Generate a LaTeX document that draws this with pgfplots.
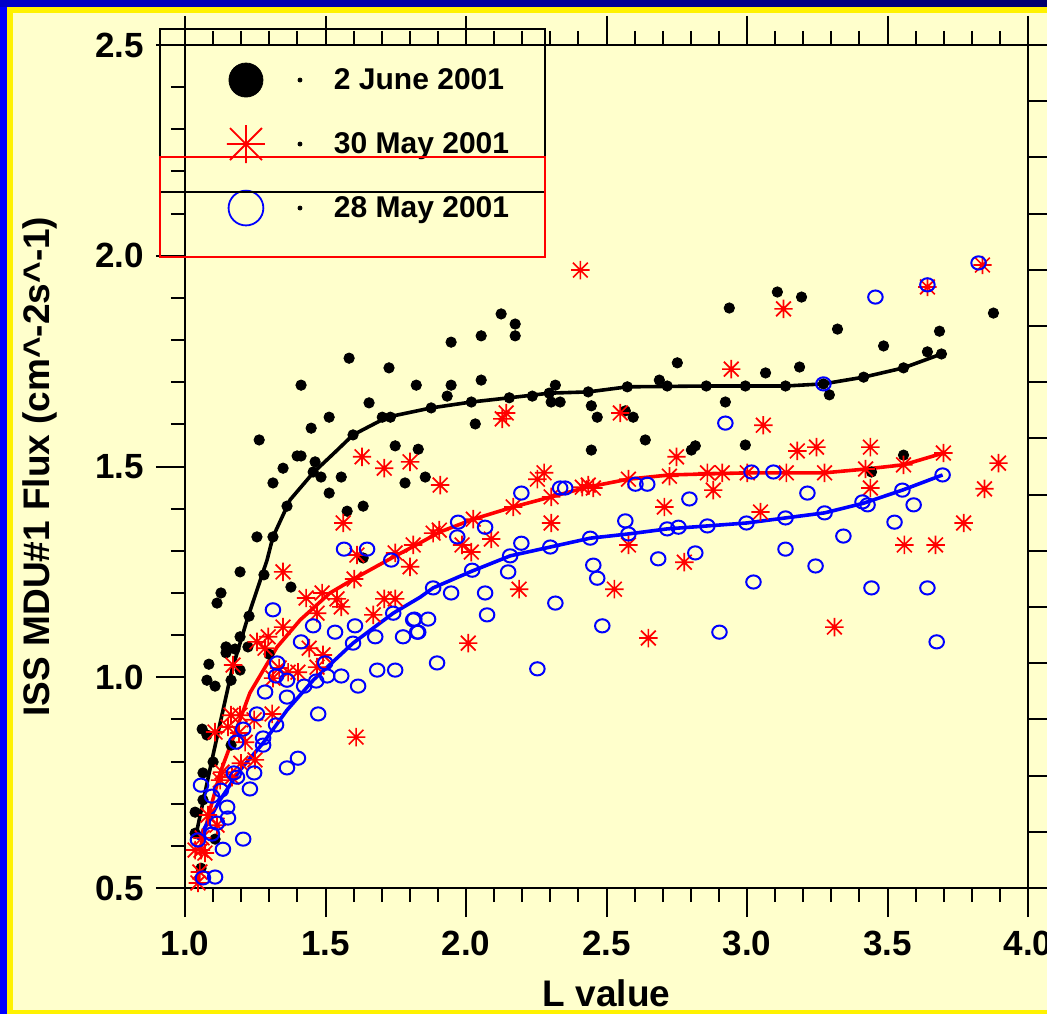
\documentclass[border=0pt]{standalone}
\usepackage{fontspec}
\setmainfont{Liberation Sans}
\usepackage{pgfplots}
\usepackage{pgfplotstable}
\pgfplotsset{compat=1.18}

\definecolor{bgyellow}{RGB}{255,255,204}
\definecolor{topblueA}{RGB}{0,0,200}
\definecolor{topblueB}{RGB}{0,0,110}

% eight-armed asterisk like the original SigmaPlot symbol
\pgfdeclareplotmark{star8}{%
  \pgfpathmoveto{\pgfqpoint{-\pgfplotmarksize}{0pt}}\pgfpathlineto{\pgfqpoint{\pgfplotmarksize}{0pt}}%
  \pgfpathmoveto{\pgfqpoint{0pt}{-\pgfplotmarksize}}\pgfpathlineto{\pgfqpoint{0pt}{\pgfplotmarksize}}%
  \pgfpathmoveto{\pgfqpoint{-0.8\pgfplotmarksize}{-0.8\pgfplotmarksize}}\pgfpathlineto{\pgfqpoint{0.8\pgfplotmarksize}{0.8\pgfplotmarksize}}%
  \pgfpathmoveto{\pgfqpoint{-0.8\pgfplotmarksize}{0.8\pgfplotmarksize}}\pgfpathlineto{\pgfqpoint{0.8\pgfplotmarksize}{-0.8\pgfplotmarksize}}%
  \pgfusepathqstroke}

% 2 June 2001
\pgfplotstableread{
x y
1.584 1.757
1.726 1.734
1.823 1.693
1.413 1.693
1.655 1.651
1.513 1.617
1.702 1.617
1.731 1.617
1.449 1.591
1.264 1.563
1.598 1.575
1.748 1.549
1.830 1.541
1.399 1.525
1.413 1.525
1.463 1.511
1.349 1.496
1.456 1.487
1.484 1.475
1.556 1.475
1.313 1.461
1.783 1.461
1.513 1.437
1.363 1.406
1.634 1.406
1.577 1.394
1.256 1.333
1.313 1.333
1.196 1.250
1.281 1.243
1.634 1.283
1.377 1.214
1.128 1.200
1.114 1.176
1.228 1.145
1.196 1.096
1.146 1.072
1.178 1.067
1.224 1.072
1.146 1.058
1.299 1.055
1.085 1.031
1.196 1.017
1.078 0.993
1.107 0.979
1.164 0.993
1.061 0.877
1.078 0.863
1.164 0.839
1.100 0.799
1.064 0.773
1.064 0.709
1.036 0.680
1.036 0.630
1.107 0.616
1.057 0.547
2.125 1.862
2.175 1.838
2.175 1.810
2.054 1.810
1.947 1.795
1.947 1.693
2.054 1.705
1.933 1.667
1.876 1.639
2.019 1.653
2.154 1.663
2.236 1.667
2.296 1.674
2.318 1.693
2.303 1.653
2.335 1.653
2.435 1.677
2.574 1.689
2.688 1.705
2.716 1.691
2.752 1.746
2.446 1.644
2.467 1.617
2.567 1.632
2.595 1.617
2.033 1.601
2.638 1.563
2.446 1.539
2.802 1.539
2.816 1.549
1.855 1.475
2.937 1.876
3.108 1.914
3.194 1.902
3.322 1.826
3.486 1.786
3.685 1.821
3.642 1.772
3.692 1.767
3.557 1.734
3.415 1.712
3.272 1.696
3.293 1.670
3.187 1.736
3.066 1.722
3.137 1.691
2.994 1.691
2.855 1.691
2.923 1.653
2.994 1.551
3.877 1.864
3.557 1.527
3.443 1.487
}\blackpts

% 30 May 2001
\pgfplotstableread{
x y
1.349 1.250
1.602 1.233
1.801 1.262
1.431 1.188
1.488 1.200
1.541 1.186
1.556 1.167
1.470 1.152
1.670 1.148
1.709 1.186
1.748 1.186
1.349 1.119
1.296 1.096
1.256 1.084
1.285 1.069
1.442 1.069
1.491 1.053
1.171 1.029
1.335 1.022
1.367 1.012
1.402 1.012
1.313 0.998
1.470 1.024
1.164 0.910
1.196 0.910
1.310 0.913
1.246 0.899
1.107 0.870
1.153 0.882
1.214 0.846
1.192 0.868
1.249 0.804
1.199 0.796
1.132 0.775
1.125 0.756
1.167 0.763
1.082 0.673
1.114 0.649
1.061 0.619
1.057 0.590
1.036 0.590
1.071 0.583
1.053 0.538
1.046 0.512
1.609 0.858
1.630 1.523
1.709 1.496
1.801 1.511
1.563 1.366
1.612 1.290
1.748 1.295
1.812 1.314
2.143 1.627
2.129 1.613
2.549 1.627
1.908 1.456
2.278 1.485
2.254 1.470
2.414 1.451
2.435 1.456
2.453 1.449
2.303 1.428
2.578 1.470
2.749 1.523
2.724 1.477
2.706 1.404
2.168 1.404
2.026 1.375
1.905 1.349
1.883 1.342
1.986 1.314
2.019 1.297
2.090 1.328
2.303 1.366
2.578 1.314
2.777 1.273
2.189 1.209
2.528 1.209
2.008 1.081
2.649 1.093
3.130 1.874
3.642 1.926
3.838 1.978
2.944 1.731
3.058 1.598
3.179 1.537
3.247 1.546
3.439 1.546
3.699 1.532
3.557 1.504
3.422 1.494
3.276 1.485
3.140 1.485
3.001 1.485
2.912 1.485
2.859 1.485
2.880 1.444
3.439 1.449
3.048 1.392
3.895 1.508
3.845 1.447
3.771 1.366
3.560 1.314
3.671 1.314
3.311 1.119
2.407 1.966
}\redpts

% 28 May 2001
\pgfplotstableread{
x y
1.313 1.160
1.734 1.278
1.456 1.122
1.534 1.107
1.605 1.122
1.598 1.081
1.677 1.096
1.741 1.152
1.776 1.096
1.812 1.136
1.826 1.107
1.413 1.084
1.328 1.034
1.324 1.003
1.363 0.993
1.499 1.034
1.506 1.003
1.556 1.003
1.424 0.979
1.467 0.991
1.684 1.017
1.748 1.017
1.616 0.979
1.285 0.965
1.363 0.953
1.474 0.913
1.256 0.913
1.207 0.877
1.182 0.846
1.278 0.856
1.278 0.839
1.324 0.887
1.363 0.785
1.402 0.808
1.174 0.773
1.185 0.763
1.246 0.773
1.231 0.735
1.057 0.744
1.096 0.718
1.128 0.732
1.150 0.692
1.153 0.666
1.114 0.654
1.096 0.628
1.046 0.614
1.135 0.592
1.207 0.616
1.064 0.524
1.107 0.526
1.566 1.304
1.648 1.304
2.335 1.449
2.353 1.449
2.197 1.437
2.603 1.458
2.645 1.458
2.795 1.423
1.972 1.368
2.068 1.356
1.969 1.333
2.567 1.371
2.578 1.340
2.716 1.352
2.756 1.356
2.197 1.318
2.157 1.288
2.300 1.309
2.442 1.330
2.684 1.281
2.816 1.295
2.453 1.266
2.467 1.235
2.150 1.250
2.022 1.254
1.883 1.212
1.947 1.200
2.068 1.200
1.816 1.138
1.865 1.138
1.830 1.107
2.075 1.148
2.318 1.176
2.485 1.122
1.897 1.034
2.254 1.020
3.824 1.983
3.642 1.931
3.457 1.902
3.272 1.696
2.923 1.603
3.016 1.487
3.094 1.487
3.215 1.437
3.411 1.416
3.429 1.409
3.553 1.444
3.696 1.480
3.593 1.409
3.525 1.368
2.859 1.359
2.998 1.366
3.137 1.378
3.276 1.390
3.343 1.335
3.137 1.304
3.244 1.264
3.023 1.226
3.443 1.212
3.642 1.212
2.902 1.107
3.675 1.084
}\bluepts

% fitted curves
\pgfplotstableread{
x y
1.043 0.638
1.096 0.804
1.167 1.017
1.224 1.143
1.292 1.278
1.313 1.333
1.374 1.421
1.456 1.485
1.534 1.534
1.598 1.575
1.719 1.617
1.876 1.639
2.019 1.653
2.154 1.663
2.296 1.674
2.435 1.677
2.574 1.689
2.855 1.691
3.137 1.691
3.272 1.696
3.415 1.712
3.557 1.734
3.692 1.767
}\blackfit

\pgfplotstableread{
x y
1.053 0.590
1.089 0.685
1.125 0.773
1.178 0.868
1.231 0.963
1.328 1.072
1.410 1.136
1.516 1.200
1.605 1.235
1.741 1.285
1.837 1.319
1.908 1.345
2.026 1.375
2.168 1.404
2.303 1.428
2.432 1.451
2.578 1.470
2.724 1.480
3.001 1.485
3.276 1.485
3.422 1.494
3.557 1.504
3.699 1.532
}\redfit

\pgfplotstableread{
x y
1.046 0.614
1.125 0.709
1.196 0.780
1.278 0.844
1.363 0.922
1.456 0.993
1.598 1.081
1.741 1.152
1.837 1.190
1.883 1.212
2.022 1.252
2.157 1.288
2.300 1.309
2.442 1.330
2.578 1.340
2.716 1.352
2.859 1.359
2.998 1.366
3.137 1.378
3.276 1.390
3.415 1.413
3.553 1.444
3.696 1.480
}\bluefit

\begin{document}
\begin{tikzpicture}
% slide background
\fill[blue] (-92.5pt,-63pt) rectangle (431pt,444pt);
\shade[left color=topblueA, right color=topblueB] (-92.5pt,440.5pt) rectangle (431pt,444pt);
\fill[yellow] (-89pt,-63pt) rectangle (431pt,440.5pt);
\fill[bgyellow] (-86pt,-61pt) rectangle (431pt,437.5pt);

\begin{axis}[
  scale only axis, width=421.5pt, height=421.5pt,
  xmin=1, xmax=4, ymin=0.5, ymax=2.5,
  xtick={1,1.5,2,2.5,3,3.5,4}, ytick={0.5,1,1.5,2,2.5},
  minor x tick num=4, minor y tick num=4,
  xtick pos=both, ytick pos=left,
  tick align=outside,
  major tick length=14.5pt, minor tick length=7pt,
  axis line style={line width=1.3pt},
  every tick/.style={black, line width=1pt},
  tick label style={font=\fontsize{17.5}{17.5}\selectfont\bfseries},
  xticklabel style={yshift=-3.5pt},
  yticklabel style={xshift=-2.5pt},
  /pgf/number format/fixed, /pgf/number format/fixed zerofill,
  /pgf/number format/precision=1, /pgf/number format/assume math mode=true,
  xlabel={L value},
  ylabel={ISS MDU\#1 Flux (cm\textasciicircum-2s\textasciicircum-1)},
  label style={font=\fontsize{18.5}{18.5}\selectfont\bfseries},
  xlabel style={at={(axis description cs:0.5,-0.1246)}, anchor=center},
  ylabel style={at={(axis description cs:-0.172,0.5)}, anchor=center},
  clip=false,
  legend cell align=left,
  legend style={at={(axis description cs:0.0486,0.9964)}, anchor=north west,
    draw=none, fill=none, inner sep=0pt, outer sep=0pt, row sep=0pt, column sep=0pt,
    nodes={inner sep=0pt, outer sep=0pt},
    font=\fontsize{15}{15}\selectfont\bfseries},
]
\addplot[only marks, mark=*, mark size=2.6pt, black,
  legend image code/.code={%
    \path[draw=none, fill=none] (-10pt,-16pt) rectangle (44pt,16pt);
    \fill[black] (0pt,0pt) circle (8.5pt);
    \fill[black] (27pt,0pt) circle (1pt);}]
  table {\blackpts};
\addlegendentry{2 June 2001}
\addplot[forget plot, black, line width=1.8pt, line join=round] table {\blackfit};

\addplot[only marks, mark=star8, mark size=4.6pt, red, mark options={line width=0.85pt},
  legend image code/.code={%
    \path[draw=none, fill=none] (-10pt,-16pt) rectangle (44pt,16pt);
    \draw[red, line width=0.9pt] (-9.5pt,0pt)--(9.5pt,0pt) (0pt,-9.5pt)--(0pt,9.5pt)
      (-8pt,-8pt)--(8pt,8pt) (-8pt,8pt)--(8pt,-8pt);
    \fill[black] (27pt,0pt) circle (1pt);}]
  table {\redpts};
\addlegendentry{30 May 2001}
\addplot[forget plot, red, line width=1.8pt, line join=round] table {\redfit};

\addplot[only marks, mark=o, mark size=3.3pt, blue, mark options={line width=1pt, xscale=1.1},
  legend image code/.code={%
    \path[draw=none, fill=none] (-10pt,-16pt) rectangle (44pt,16pt);
    \draw[blue, line width=0.9pt] (0pt,0pt) circle (8.7pt);
    \fill[black] (27pt,0pt) circle (1pt);}]
  table {\bluepts};
\addlegendentry{28 May 2001}
\addplot[forget plot, blue, line width=1.8pt, line join=round] table {\bluefit};
\end{axis}

% right-hand axis of the overlaid graph, with its own tick spacing
\begin{axis}[
  scale only axis, width=421.5pt, height=421.5pt,
  xmin=1, xmax=4, ymin=0.5, ymax=2.5,
  axis x line=none, axis y line*=right,
  ytick={0.5,0.63333,0.76667,0.9,1.03333,1.16667,1.3,1.43333,1.56667,1.7,1.83333,1.96667,2.1,2.23333,2.36667,2.5},
  yticklabels={},
  tick align=outside, major tick length=12pt,
  axis line style={line width=1.3pt},
  every tick/.style={black, line width=1pt},
]
\end{axis}

% legend frames as left by the original software
\draw[black, line width=0.8pt] (-12.5pt,348pt) rectangle (180pt,429.5pt);
\draw[red, line width=0.8pt] (-12.5pt,315.5pt) rectangle (180pt,365.5pt);

\pgfresetboundingbox
\path[use as bounding box] (-92.5pt,-63pt) rectangle (431pt,444pt);
\end{tikzpicture}
\end{document}
